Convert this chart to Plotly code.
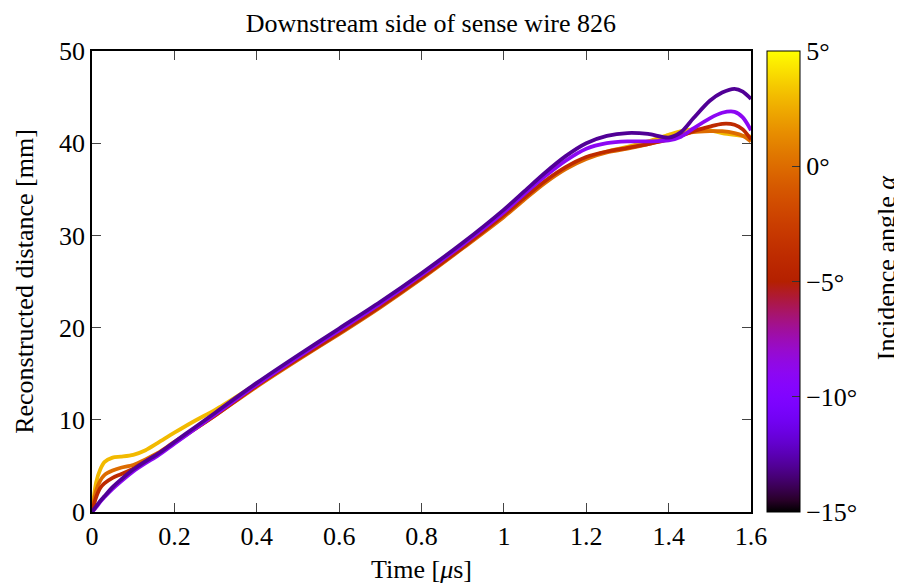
import math
import plotly.graph_objects as go

# ---- data ----
time_us = [0, 0.01, 0.02, 0.03, 0.05, 0.07, 0.10, 0.13, 0.16, 0.20, 0.25, 0.30,
           0.40, 0.50, 0.60, 0.70, 0.80, 0.90, 1.00, 1.05, 1.10, 1.15, 1.20,
           1.25, 1.30, 1.35, 1.40, 1.43, 1.46, 1.50, 1.53, 1.56, 1.58, 1.60]

angle_p3 = 3
dist_p3 = [0, 3.2, 4.6, 5.4, 5.9, 6.0, 6.2, 6.7, 7.5, 8.6, 9.9, 11.1,
           13.9, 16.6, 19.4, 22.3, 25.4, 28.7, 32.1, 34.0, 35.8, 37.3, 38.4,
           39.1, 39.6, 40.2, 40.9, 41.3, 41.5, 41.4, 41.1, 40.9, 40.8, 40.7]

angle_0 = 0
dist_0 = [0, 2.3, 3.4, 4.0, 4.5, 4.8, 5.1, 5.7, 6.4, 7.6, 9.0, 10.5,
          13.6, 16.5, 19.3, 22.2, 25.3, 28.6, 32.0, 33.9, 35.7, 37.2, 38.3,
          39.0, 39.4, 39.9, 40.5, 40.9, 41.2, 41.3, 41.3, 41.1, 40.8, 40.2]

angle_m4 = -4
dist_m4 = [0, 1.6, 2.6, 3.1, 3.7, 4.1, 4.7, 5.5, 6.3, 7.5, 9.0, 10.5,
           13.7, 16.6, 19.4, 22.3, 25.4, 28.7, 32.2, 34.1, 35.9, 37.4, 38.5,
           39.1, 39.5, 39.9, 40.4, 40.8, 41.3, 41.8, 42.1, 42.0, 41.5, 40.4]

angle_m9 = -9
dist_m9 = [0, 0.5, 1.1, 1.6, 2.5, 3.3, 4.4, 5.3, 6.1, 7.4, 9.0, 10.6,
           13.8, 16.8, 19.7, 22.6, 25.7, 29.0, 32.5, 34.5, 36.4, 38.1, 39.4,
           40.0, 40.2, 40.2, 40.3, 40.7, 41.6, 42.7, 43.3, 43.4, 42.8, 41.4]

angle_m13 = -13
dist_m13 = [0, 0.6, 1.2, 1.7, 2.7, 3.5, 4.6, 5.5, 6.3, 7.6, 9.2, 10.8,
            14.0, 17.0, 19.9, 22.8, 25.9, 29.2, 32.8, 34.8, 36.8, 38.6, 40.0,
            40.8, 41.1, 41.0, 40.6, 41.2, 42.7, 44.6, 45.5, 45.9, 45.6, 44.8]

cbar_vals = [-15, -10, -5, 0, 5]
cbar_text = ["\u221215\u00b0", "\u221210\u00b0", "\u22125\u00b0", "0\u00b0", "5\u00b0"]
x_ticks = [0, 0.2, 0.4, 0.6, 0.8, 1.0, 1.2, 1.4, 1.6]
y_ticks = [0, 10, 20, 30, 40, 50]

CMIN, CMAX = -15, 5


def gp_rgb(f):
    r = math.sqrt(f)
    g = f ** 3
    b = max(0.0, math.sin(2 * math.pi * f))
    return "rgb(%d,%d,%d)" % (round(r * 255), round(g * 255), round(b * 255))


def angle_color(a):
    return gp_rgb((a - CMIN) / (CMAX - CMIN))


colorscale = [[i / 40, gp_rgb(i / 40)] for i in range(41)]

FONT = "Liberation Serif"
FS = 26
PLOT_W = 894 - 84 - 151
CB_X = 1.0243

fig = go.Figure()
series = [(angle_p3, dist_p3), (angle_0, dist_0), (angle_m4, dist_m4),
          (angle_m9, dist_m9), (angle_m13, dist_m13)]
for a, d in series:
    fig.add_trace(go.Scatter(
        x=time_us, y=d, mode="lines",
        line=dict(color=angle_color(a), width=3.8, shape="spline", smoothing=0.8),
        showlegend=False, hoverinfo="skip"))

# colour bar
fig.add_trace(go.Scatter(
    x=[None], y=[None], mode="markers", showlegend=False,
    marker=dict(color=[CMIN], cmin=CMIN, cmax=CMAX, colorscale=colorscale,
                showscale=True,
                colorbar=dict(
                    x=CB_X, xanchor="left", xref="paper",
                    y=0, yanchor="bottom", yref="paper",
                    len=1, lenmode="fraction", thickness=33,
                    xpad=0, ypad=0,
                    outlinewidth=1, outlinecolor="black",
                    tickvals=cbar_vals, ticktext=cbar_text,
                    ticks="inside", ticklen=8, tickcolor="#333",
                    tickfont=dict(family=FONT, size=FS, color="black"),
                ))))

# mirrored tick dashes on the left side of the colour bar
for v in cbar_vals[1:-1]:
    yy = (v - CMIN) / (CMAX - CMIN)
    fig.add_shape(type="line", xref="paper", yref="paper",
                  x0=CB_X, x1=CB_X + 8 / PLOT_W, y0=yy, y1=yy,
                  line=dict(color="#333", width=1))

# colour bar title placed explicitly
fig.add_annotation(text="Incidence angle <i>\u03b1</i>", xref="paper", yref="paper",
                   x=1.2049, y=0.529, xanchor="center", yanchor="middle",
                   textangle=-90, showarrow=False,
                   font=dict(family=FONT, size=FS, color="black"))

axis_common = dict(showline=True, linecolor="black", linewidth=1.5, mirror="ticks",
                   ticks="inside", ticklen=9, tickcolor="#444", tickwidth=1,
                   showgrid=False, zeroline=False,
                   tickfont=dict(family=FONT, size=FS, color="black"))

# the page adds an 8px body margin, so the figure is 8px smaller and shifted
fig.update_layout(
    width=894, height=577,
    margin=dict(l=84, r=151, t=43, b=73, autoexpand=False),
    paper_bgcolor="white", plot_bgcolor="white",
    font=dict(family=FONT, size=FS, color="black"),
    title=dict(text="Downstream side of sense wire 826", x=0.473, xanchor="center",
               xref="container", y=1 - 15 / 577, yanchor="middle", yref="container",
               font=dict(family=FONT, size=FS, color="black")),
    xaxis=dict(range=[0, 1.6], tickvals=x_ticks,
               title=dict(text="Time [<i>\u03bc</i>s]", standoff=10,
                          font=dict(family=FONT, size=FS)),
               **axis_common),
    yaxis=dict(range=[0, 50], tickvals=y_ticks,
               title=dict(text="Reconstructed distance [mm]", standoff=18,
                          font=dict(family=FONT, size=FS)),
               **axis_common),
)

fig.write_html("out.html")
